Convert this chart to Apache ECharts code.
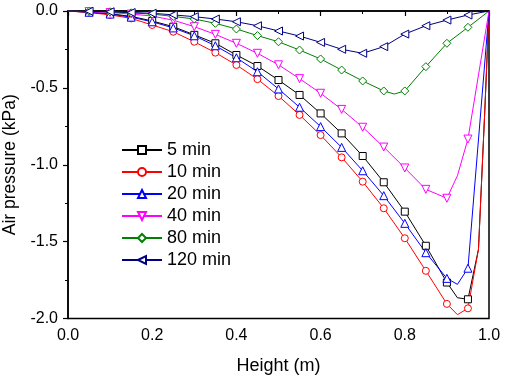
<!DOCTYPE html>
<html>
<head>
<meta charset="utf-8">
<script src="https://cdn.jsdelivr.net/npm/echarts@6/dist/echarts.min.js"></script>
<style>
html,body{margin:0;padding:0;background:#fff;}
#chart{width:506px;height:380px;}
</style>
</head>
<body>
<div id="chart"></div>
<script>
// Heights (m) where markers are drawn
const heights = [0,0.05,0.1,0.15,0.2,0.25,0.3,0.35,0.4,0.45,0.5,0.55,0.6,0.65,0.7,0.75,0.8,0.85,0.9,0.95,1.0];
const seriesNames = ['5 min','10 min','20 min','40 min','80 min','120 min'];
// Air pressure (kPa) at each height
const p5   = [0,-0.008,-0.018,-0.035,-0.065,-0.102,-0.155,-0.21,-0.286,-0.358,-0.449,-0.546,-0.666,-0.796,-0.943,-1.114,-1.305,-1.527,-1.766,-1.875,0];
const p10  = [0,-0.01,-0.025,-0.048,-0.091,-0.135,-0.2,-0.271,-0.351,-0.443,-0.553,-0.676,-0.807,-0.952,-1.11,-1.283,-1.478,-1.69,-1.905,-1.934,0];
const p20  = [0,-0.008,-0.02,-0.04,-0.07,-0.11,-0.161,-0.226,-0.304,-0.395,-0.507,-0.626,-0.752,-0.887,-1.039,-1.201,-1.381,-1.572,-1.739,-1.673,0];
const p40  = [0,-0.004,-0.01,-0.02,-0.033,-0.06,-0.102,-0.152,-0.21,-0.275,-0.35,-0.44,-0.535,-0.64,-0.756,-0.885,-1.021,-1.16,-1.218,-0.833,0];
const p80  = [0,-0.002,-0.005,-0.012,-0.02,-0.035,-0.052,-0.08,-0.117,-0.16,-0.2,-0.254,-0.312,-0.384,-0.455,-0.52,-0.52,-0.362,-0.21,-0.106,0];
const p120 = [0,-0.002,-0.005,-0.01,-0.015,-0.025,-0.037,-0.052,-0.07,-0.096,-0.13,-0.163,-0.204,-0.249,-0.275,-0.232,-0.15,-0.096,-0.059,-0.026,0];
// Extra unmarked points along the curves [height, pressure]
const x5   = [[0.925,-1.865],[0.975,-1.55],[0.99,-0.65]];
const x10  = [[0.925,-1.975],[0.975,-1.55],[0.99,-0.65]];
const x20  = [[0.925,-1.778]];
const x40  = [[0.925,-1.071]];
const x80  = [[0.775,-0.54]];
const x120 = [];

const colors = ['#000000','#ff0000','#0000ff','#ff00ff','#008000','#000080'];
const symbols = ['rect','circle','triangle','triangle','diamond','triangle'];
const rotates = [0,0,0,180,0,90];
const sizes = [7,7,8,8,8,8];
const vals = [p5,p10,p20,p40,p80,p120];
const extras = [x5,x10,x20,x40,x80,x120];

function build(v, ex){
  const pts = heights.map((h,i)=>{
    const noSym = (i===0 || i===heights.length-1);
    return noSym ? {value:[h,v[i]], symbol:'none'} : {value:[h,v[i]]};
  });
  ex.forEach(e=>pts.push({value:[e[0],e[1]], symbol:'none'}));
  pts.sort((a,b)=>a.value[0]-b.value[0]);
  return pts;
}

const FONT = '"Liberation Sans", Arial, sans-serif';
const chart = echarts.init(document.getElementById('chart'), null, {renderer:'canvas'});
const option = {
  animation:false,
  backgroundColor:'#fff',
  grid:{left:68,right:17,top:11,bottom:61.5,containLabel:false,outerBoundsMode:'none',show:true,borderColor:'#000',borderWidth:1.5,backgroundColor:'transparent'},
  legend:{
    orient:'vertical', left:116, top:136, itemWidth:40, itemHeight:10, itemGap:4,
    textStyle:{fontFamily:FONT,fontSize:18,color:'#000'},
    data:seriesNames
  },
  xAxis:{
    type:'value', min:0, max:1, interval:0.2,
    name:'Height (m)', nameLocation:'middle', nameGap:39,
    nameTextStyle:{fontFamily:FONT,fontSize:18,color:'#000'},
    axisLine:{show:true,lineStyle:{color:'#000',width:1.5}},
    axisTick:{show:true,inside:false,length:5,lineStyle:{color:'#000',width:1.2}},
    minorTick:{show:true,splitNumber:2,length:3,lineStyle:{color:'#000',width:1}},
    splitLine:{show:false},
    axisLabel:{fontFamily:FONT,fontSize:16,color:'#000',margin:9,formatter:v=>v.toFixed(1)}
  },
  yAxis:{
    type:'value', min:-2, max:0, interval:0.5,
    name:'Air pressure (kPa)', nameLocation:'middle', nameGap:43,
    nameTextStyle:{fontFamily:FONT,fontSize:17.5,color:'#000'},
    axisLine:{show:true,onZero:false,lineStyle:{color:'#000',width:1.5}},
    axisTick:{show:true,inside:false,length:5,lineStyle:{color:'#000',width:1.2}},
    minorTick:{show:true,splitNumber:2,length:3,lineStyle:{color:'#000',width:1}},
    splitLine:{show:false},
    axisLabel:{fontFamily:FONT,fontSize:16,color:'#000',margin:10,formatter:v=>v.toFixed(1)}
  },
  series: seriesNames.map((n,i)=>({
    name:n, type:'line', data:build(vals[i],extras[i]),
    symbol:symbols[i], symbolSize:sizes[i], symbolRotate:rotates[i],
    showAllSymbol:true, clip:true,
    lineStyle:{color:colors[i],width:1},
    itemStyle:{color:'#fff',borderColor:colors[i],borderWidth:1},
    emphasis:{disabled:true}
  }))
};
chart.setOption(option);
</script>
</body>
</html>
